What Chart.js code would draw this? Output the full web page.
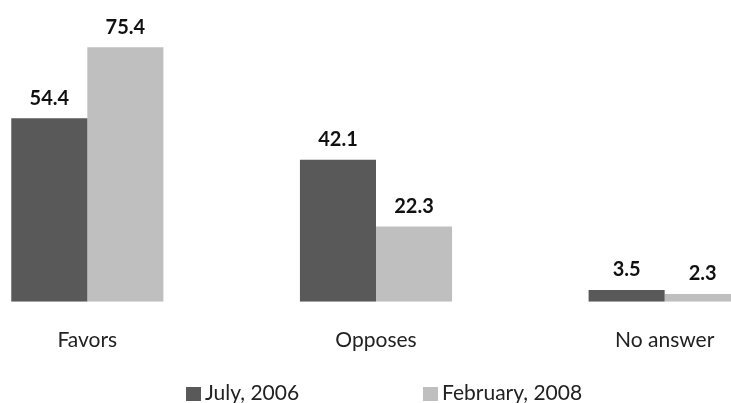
<!DOCTYPE html>
<html>
<head>
<meta charset="utf-8">
<script src="https://cdn.jsdelivr.net/npm/chart.js@4.4.0/dist/chart.umd.min.js"></script>
<style>
  html, body { margin: 0; padding: 0; background: #fff; overflow: hidden; width: 731px; height: 403px; }
  #wrap { position: absolute; left: -57px; top: 0; width: 866px; height: 403px; }
  .legend { position: absolute; top: 380px; font-family: Lato, sans-serif; font-size: 21px; color: #222; line-height: 24px; white-space: nowrap; }
  .legend span.box { display: inline-block; width: 15px; height: 14px; margin-right: 4px; vertical-align: -1px; }
</style>
</head>
<body>
<div id="wrap"><canvas id="barChart"></canvas></div>
<div class="legend" style="left:186px"><span class="box" style="background:#595959"></span>July, 2006</div>
<div class="legend" style="left:423px"><span class="box" style="background:#BFBFBF"></span>February, 2008</div>
<script>
var categories = ["Favors", "Opposes", "No answer"];
var july2006 = [54.4, 42.1, 3.5];
var feb2008 = [75.4, 22.3, 2.3];
var seriesNames = ["July, 2006", "February, 2008"];
var barColors = ["#595959", "#BFBFBF"];

// values printed above each bar
var valueLabels = {
  id: "valueLabels",
  afterDatasetsDraw: function(chart) {
    var ctx = chart.ctx;
    ctx.save();
    ctx.font = "bold 20px Lato, sans-serif";
    ctx.fillStyle = "#111";
    ctx.textAlign = "center";
    ctx.textBaseline = "middle";
    chart.data.datasets.forEach(function(ds, i) {
      chart.getDatasetMeta(i).data.forEach(function(bar, j) {
        ctx.fillText(ds.data[j].toFixed(1), bar.x, bar.y - 20);
      });
    });
    ctx.restore();
  }
};

const barCtx = document.getElementById('barChart').getContext("2d");

new Chart(barCtx, {
  type: "bar",
  data: {
    labels: categories,
    datasets: [{
      label: seriesNames[0],
      backgroundColor: barColors[0],
      data: july2006
    }, {
      label: seriesNames[1],
      backgroundColor: barColors[1],
      data: feb2008
    }]
  },
  options: {
    responsive: true,
    maintainAspectRatio: false,
    animation: false,
    layout: { padding: { top: 0, left: 0, right: 0, bottom: 24 } },
    datasets: { bar: { categoryPercentage: 0.527, barPercentage: 1.0 } },
    plugins: {
      legend: { display: false },
      tooltip: { enabled: false }
    },
    scales: {
      x: {
        grid: { display: false, drawTicks: false },
        border: { display: false },
        ticks: { padding: 26, color: "#222", font: { family: "Lato, sans-serif", size: 21 } }
      },
      y: {
        display: false,
        min: 0,
        max: 89.4
      }
    }
  },
  plugins: [valueLabels]
});
</script>
</body>
</html>
